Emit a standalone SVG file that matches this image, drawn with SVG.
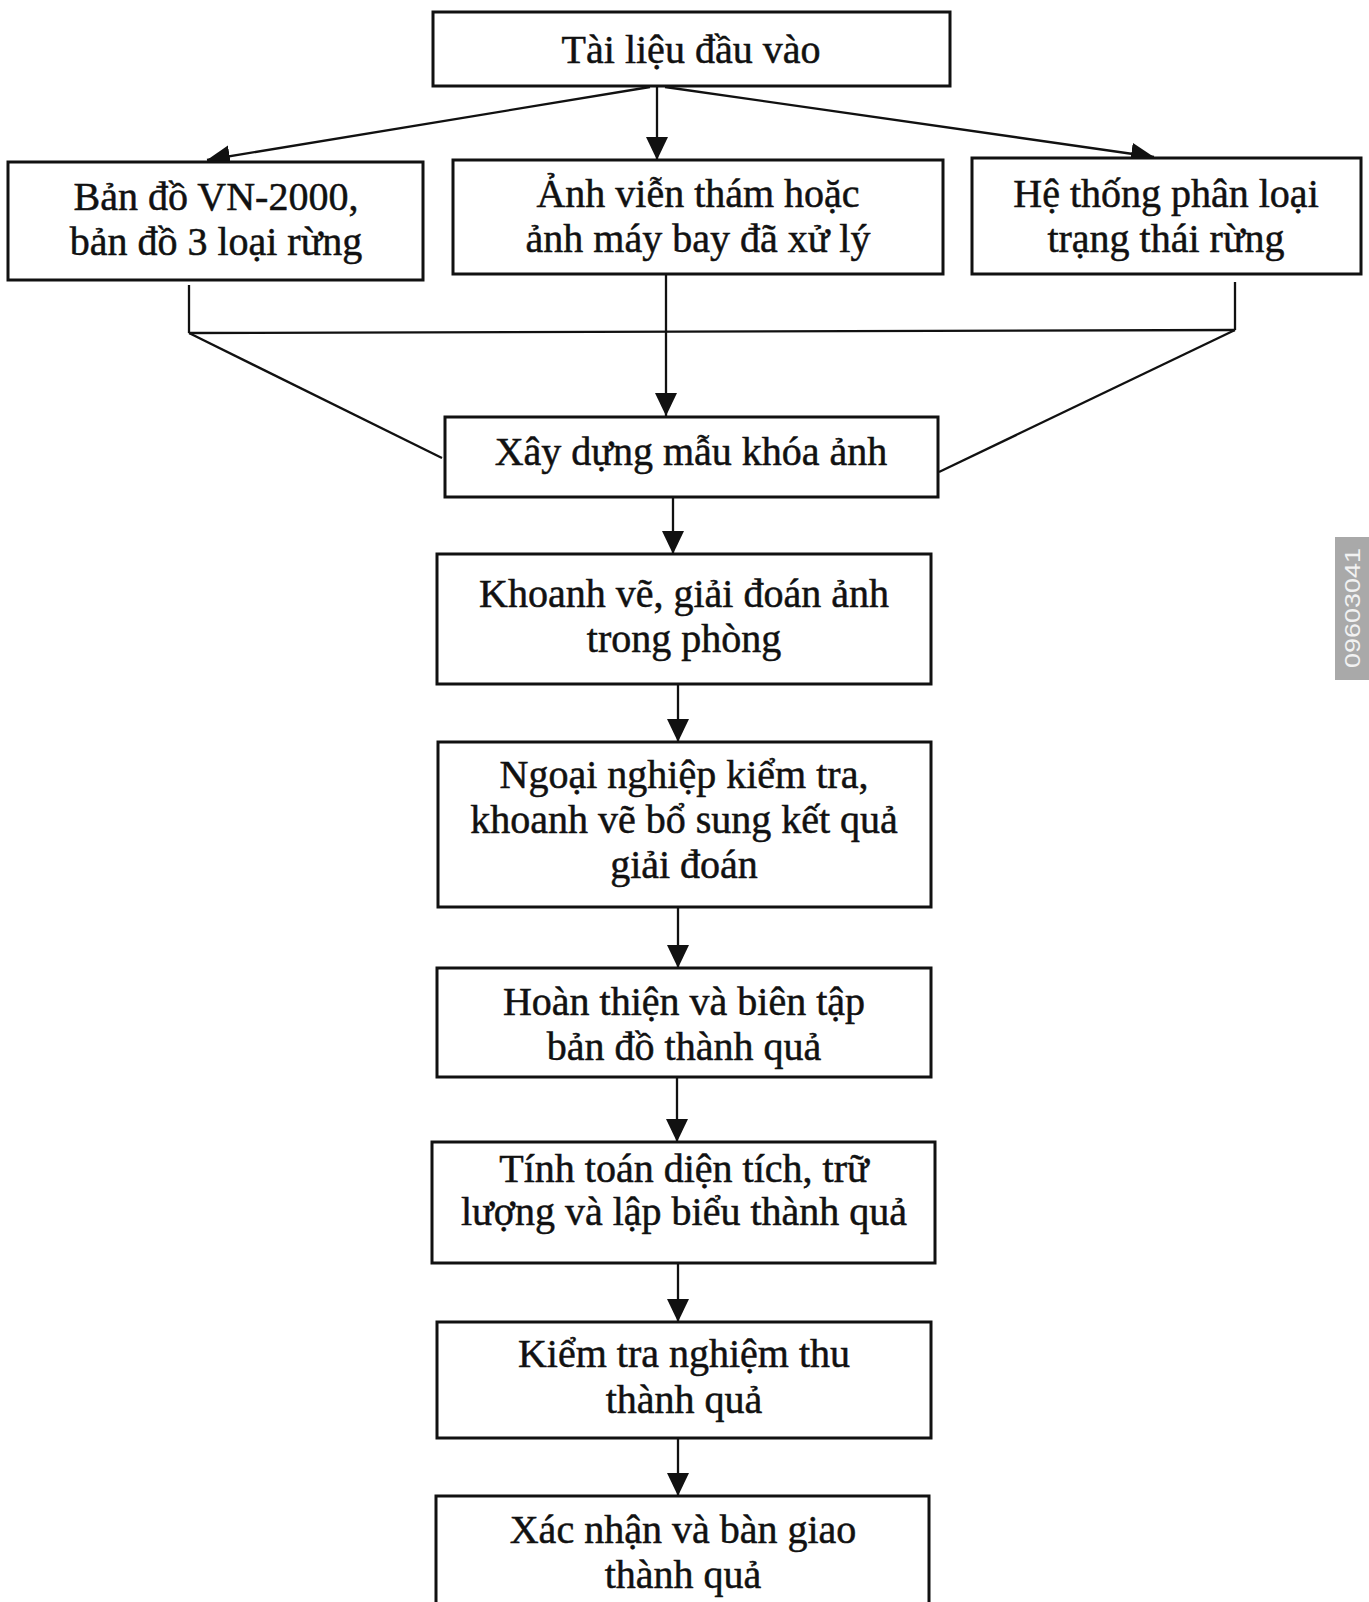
<svg xmlns="http://www.w3.org/2000/svg" width="1369" height="1602" viewBox="0 0 1369 1602">
<style>
.box{fill:#fff;stroke:#111;stroke-width:3}
.t{font-family:"Liberation Serif","Times New Roman",serif;font-size:40px;fill:#111;stroke:#111;stroke-width:0.5;text-anchor:middle}
.c{fill:none;stroke:#111;stroke-width:2.3}
.wm{font-family:"Liberation Sans",Arial,sans-serif;font-size:22px;fill:#f2f2f2;text-anchor:middle}
</style>
<defs>
<marker id="ah" markerUnits="userSpaceOnUse" markerWidth="26" markerHeight="24" refX="23" refY="11" orient="auto">
<path d="M0,0 L23,11 L0,22 z" fill="#111"/>
</marker>
</defs>
<rect width="1369" height="1602" fill="#fff"/>

<g id="connectors">
<line class="c" x1="650" y1="87" x2="207" y2="160" marker-end="url(#ah)"/>
<line class="c" x1="657" y1="87" x2="657" y2="160" marker-end="url(#ah)"/>
<line class="c" x1="665" y1="87" x2="1154" y2="157" marker-end="url(#ah)"/>
<line class="c" x1="189" y1="285" x2="189" y2="333"/>
<line class="c" x1="1235" y1="282" x2="1235" y2="330"/>
<line class="c" x1="189" y1="333" x2="1235" y2="330"/>
<line class="c" x1="189" y1="333" x2="442" y2="458"/>
<line class="c" x1="1235" y1="330" x2="939" y2="472"/>
<line class="c" x1="666" y1="275" x2="666" y2="416" marker-end="url(#ah)"/>
<line class="c" x1="673" y1="498" x2="673" y2="554" marker-end="url(#ah)"/>
<line class="c" x1="678" y1="685" x2="678" y2="742" marker-end="url(#ah)"/>
<line class="c" x1="678" y1="908" x2="678" y2="968" marker-end="url(#ah)"/>
<line class="c" x1="677" y1="1078" x2="677" y2="1142" marker-end="url(#ah)"/>
<line class="c" x1="678" y1="1264" x2="678" y2="1322" marker-end="url(#ah)"/>
<line class="c" x1="678" y1="1439" x2="678" y2="1496" marker-end="url(#ah)"/>
</g>

<g id="n-tailieu">
<rect class="box" x="433" y="12" width="517" height="74"/>
<text class="t" x="691" y="63">Tài liệu đầu vào</text>
</g>
<g id="n-bando">
<rect class="box" x="8" y="162" width="415" height="118"/>
<text class="t" x="216" y="210">Bản đồ VN-2000,</text>
<text class="t" x="216" y="255">bản đồ 3 loại rừng</text>
</g>
<g id="n-anh">
<rect class="box" x="453" y="160" width="490" height="114"/>
<text class="t" x="698" y="207">Ảnh viễn thám hoặc</text>
<text class="t" x="698" y="252">ảnh máy bay đã xử lý</text>
</g>
<g id="n-hethong">
<rect class="box" x="972" y="158" width="389" height="116"/>
<text class="t" x="1166" y="207">Hệ thống phân loại</text>
<text class="t" x="1166" y="252">trạng thái rừng</text>
</g>
<g id="n-xaydung">
<rect class="box" x="445" y="417" width="493" height="80"/>
<text class="t" x="691" y="465">Xây dựng mẫu khóa ảnh</text>
</g>
<g id="n-khoanhve">
<rect class="box" x="437" y="554" width="494" height="130"/>
<text class="t" x="684" y="607">Khoanh vẽ, giải đoán ảnh</text>
<text class="t" x="684" y="652">trong phòng</text>
</g>
<g id="n-ngoainghiep">
<rect class="box" x="438" y="742" width="493" height="165"/>
<text class="t" x="684" y="788">Ngoại nghiệp kiểm tra,</text>
<text class="t" x="684" y="833">khoanh vẽ bổ sung kết quả</text>
<text class="t" x="684" y="878">giải đoán</text>
</g>
<g id="n-hoanthien">
<rect class="box" x="437" y="968" width="494" height="109"/>
<text class="t" x="684" y="1015">Hoàn thiện và biên tập</text>
<text class="t" x="684" y="1060">bản đồ thành quả</text>
</g>
<g id="n-tinhtoan">
<rect class="box" x="432" y="1142" width="503" height="121"/>
<text class="t" x="684" y="1182">Tính toán diện tích, trữ</text>
<text class="t" x="684" y="1225">lượng và lập biểu thành quả</text>
</g>
<g id="n-kiemtra">
<rect class="box" x="437" y="1322" width="494" height="116"/>
<text class="t" x="684" y="1367">Kiểm tra nghiệm thu</text>
<text class="t" x="684" y="1413">thành quả</text>
</g>
<g id="n-xacnhan">
<rect class="box" x="436" y="1496" width="493" height="120"/>
<text class="t" x="683" y="1543">Xác nhận và bàn giao</text>
<text class="t" x="683" y="1588">thành quả</text>
</g>

<g id="watermark">
<rect x="1335" y="537" width="34" height="143" fill="#a9a9a9"/>
<text class="wm" transform="translate(1360 608) rotate(-90)" textLength="120" lengthAdjust="spacingAndGlyphs">09603041</text>
</g>
</svg>
